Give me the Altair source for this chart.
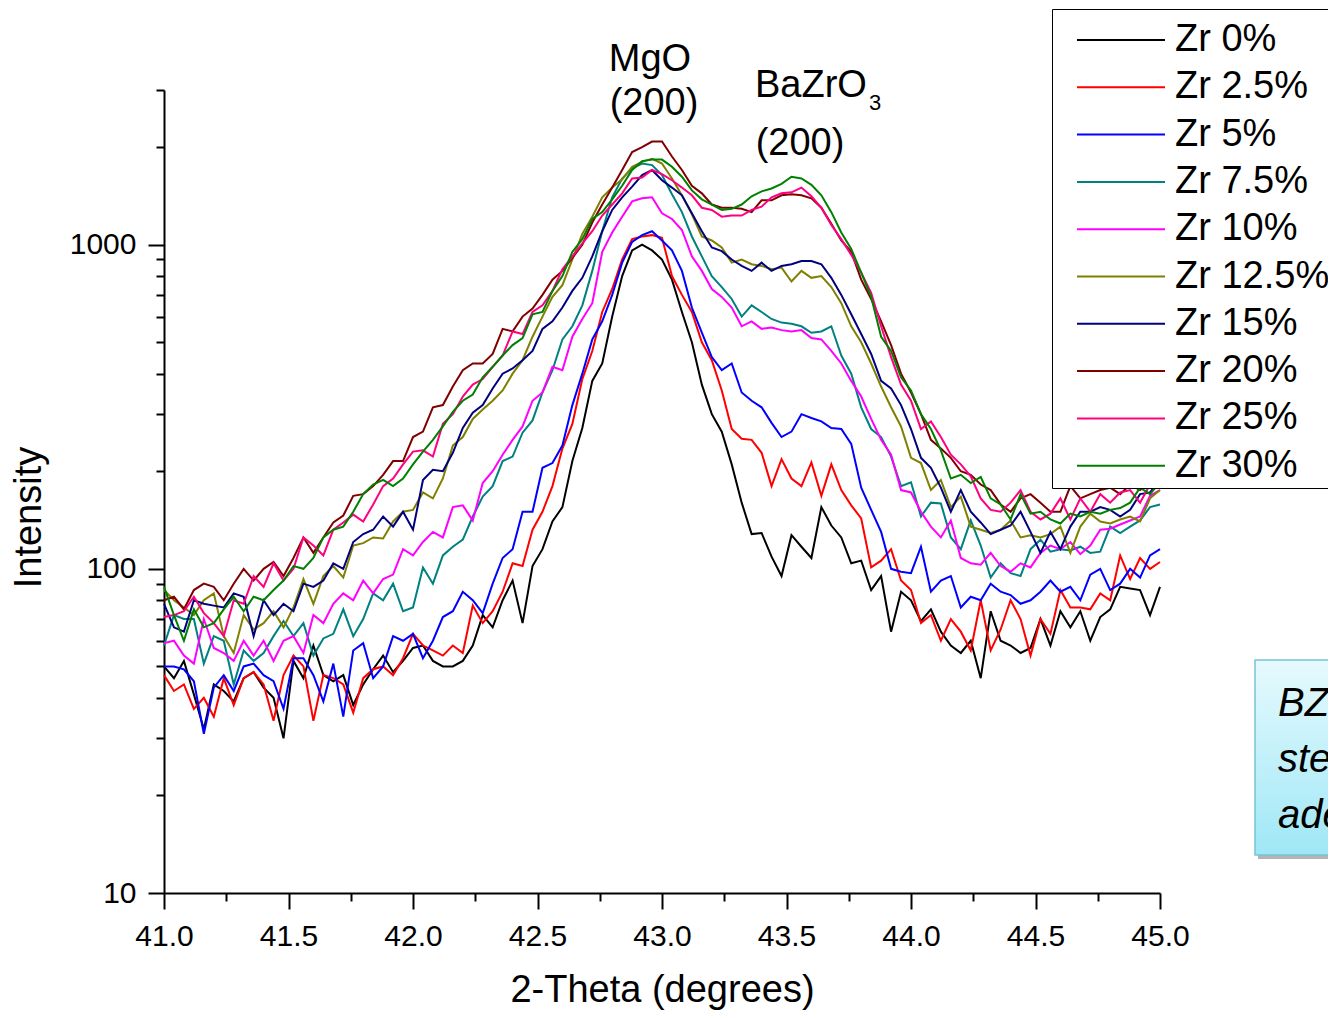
import altair as alt
import pandas as pd

# 2-theta sampling grid (degrees)
theta = [round(41.0 + 0.04 * i, 2) for i in range(101)]

zr_0 = [50, 46, 52, 41, 32, 44, 42, 39, 46, 48,
        43, 40, 30, 52, 46, 58, 47, 45, 47, 38,
        44, 49, 54, 48, 52, 57, 58, 52, 50, 50,
        52, 58, 72, 66, 80, 92, 68, 102, 115, 140,
        155, 215, 272, 380, 430, 600, 800, 960, 1000, 960,
        900, 780, 620, 500, 370, 300, 265, 210, 160, 128,
        129, 109, 95, 127, 117, 108, 155, 136, 125, 104,
        106, 86, 95, 64, 85, 80, 69, 75, 64, 58,
        55, 60, 46, 74, 60, 58, 55, 57, 70, 58,
        74, 66, 74, 60, 71, 75, 88, 87, 86, 72,
        88]
zr_2_5 = [47, 42, 44, 37, 40, 35, 46, 38, 46, 48,
          44, 34, 47, 54, 50, 34, 47, 46, 44, 36,
          46, 49, 50, 47, 53, 63, 58, 56, 54, 58,
          55, 77, 68, 74, 85, 104, 102, 132, 150, 180,
          235, 280, 385, 470, 620, 730, 900, 1040, 1060, 1070,
          1050, 800, 700, 620, 500, 440, 355, 270, 252, 250,
          228, 180, 218, 190, 180, 213, 168, 210, 175, 157,
          143, 101, 106, 115, 92, 86, 68, 72, 60, 70,
          64, 56, 80, 56, 65, 80, 70, 54, 70, 63,
          86, 76, 76, 75, 84, 80, 110, 93, 108, 100,
          105]
zr_5 = [50, 50, 49, 45, 31, 43, 47, 42, 50, 51,
        47, 45, 37, 53, 53, 47, 39, 51, 35, 56,
        59, 46, 50, 62, 60, 63, 53, 60, 71, 74,
        85, 80, 73, 90, 108, 115, 150, 150, 205, 212,
        240, 320, 400, 510, 580, 700, 880, 1020, 1070, 1100,
        1030, 960, 830, 640, 535, 450, 410, 430, 350, 330,
        315, 282, 255, 265, 300, 292, 285, 272, 270, 243,
        178, 152, 130, 100, 98, 97, 117, 85, 92, 95,
        76, 82, 80, 90, 85, 83, 78, 80, 85, 92,
        85, 88, 80, 96, 100, 86, 90, 100, 94, 110,
        115]
zr_7_5 = [58, 72, 70, 70, 51, 62, 60, 44, 56, 52,
          55, 62, 69, 62, 68, 54, 61, 63, 75, 62,
          70, 84, 80, 90, 74, 76, 101, 90, 110, 117,
          123, 145, 167, 180, 215, 222, 263, 287, 350, 410,
          510, 560, 650, 830, 1100, 1400, 1600, 1720, 1780, 1760,
          1640, 1430, 1260, 1060, 920, 800, 740, 680, 600, 650,
          620, 590, 575, 570, 560, 535, 540, 560, 455, 400,
          315, 270, 255, 222, 180, 185, 145, 160, 159, 125,
          115, 141, 118, 94, 104, 97, 95, 115, 123, 113,
          115, 114, 117, 112, 113, 135, 129, 135, 141, 155,
          158]
zr_10 = [59, 60, 54, 51, 70, 57, 55, 52, 60, 54,
         60, 52, 60, 62, 55, 72, 68, 78, 84, 80,
         92, 84, 93, 96, 115, 110, 121, 130, 125, 155,
         157, 141, 184, 200, 225, 250, 275, 330, 350, 420,
         410, 520, 590, 660, 950, 1090, 1220, 1360, 1390, 1400,
         1250, 1200, 1110, 920, 830, 730, 690, 640, 560, 580,
         550, 555, 545, 540, 545, 515, 510, 470, 430, 380,
         340, 290, 250, 225, 175, 172, 150, 135, 125, 141,
         108, 104, 103, 112, 102, 98, 104, 101, 112, 118,
         115, 121, 111, 118, 132, 133, 137, 141, 145, 168,
         175]
zr_12_5 = [86, 80, 76, 72, 80, 84, 62, 55, 72, 65,
           68, 74, 66, 76, 93, 78, 95, 102, 94, 118,
           120, 125, 124, 140, 150, 152, 172, 165, 190, 240,
           255, 290, 310, 330, 355, 400, 440, 520, 600, 690,
           750, 900, 1080, 1220, 1400, 1500, 1590, 1740, 1800, 1840,
           1780, 1600, 1420, 1240, 1060, 1030, 980, 880, 900, 870,
           860, 840, 850, 770, 830, 790, 800, 740, 660, 560,
           500, 430, 365, 315, 275, 220, 212, 175, 188, 155,
           167, 135, 132, 129, 132, 141, 125, 127, 125, 128,
           135, 112, 135, 148, 140, 138, 142, 145, 140, 165,
           175]
zr_15 = [78, 66, 64, 80, 78, 77, 76, 84, 82, 62,
         80, 72, 78, 74, 90, 88, 92, 104, 100, 121,
         128, 132, 145, 135, 150, 132, 188, 202, 200, 228,
         272, 303, 320, 360, 400, 415, 440, 470, 550, 580,
         640, 720, 790, 920, 1100, 1280, 1400, 1510, 1640, 1700,
         1580, 1500, 1420, 1250, 1100, 980, 955, 900, 860, 830,
         880, 830, 860, 870, 890, 890, 870, 790, 700, 610,
         530, 460, 380, 360, 320, 270, 220, 205, 178, 150,
         175, 150, 139, 128, 132, 136, 150, 130, 112, 130,
         115, 135, 150, 150, 155, 152, 145, 152, 170, 172,
         188]
zr_20 = [80, 82, 75, 86, 90, 88, 80, 90, 100, 92,
         100, 105, 95, 108, 125, 112, 125, 139, 146, 168,
         170, 180, 195, 215, 215, 255, 265, 315, 320, 365,
         410, 430, 430, 460, 550, 540, 600, 635, 700, 780,
         830, 910, 1000, 1170, 1330, 1500, 1700, 1930, 2000, 2080,
         2080, 1870, 1700, 1520, 1440, 1330, 1300, 1300, 1290, 1260,
         1370, 1370, 1420, 1430, 1420, 1390, 1300, 1160, 1030, 950,
         780, 680, 580, 490, 400, 350, 300, 250, 235, 220,
         200, 195, 182, 175, 158, 150, 165, 170, 160, 150,
         150, 180, 165, 170, 175, 178, 170, 182, 175, 185,
         182]
zr_25 = [71, 72, 74, 82, 73, 68, 62, 80, 78, 95,
         88, 104, 92, 100, 125, 118, 110, 132, 139, 147,
         140, 158, 180, 190, 210, 230, 232, 222, 280, 300,
         340, 370, 385, 420, 455, 540, 530, 620, 650, 720,
         840, 920, 1010, 1100, 1230, 1330, 1440, 1600, 1610, 1700,
         1650, 1580, 1500, 1420, 1300, 1280, 1220, 1230, 1230, 1280,
         1310, 1400, 1440, 1450, 1500, 1410, 1300, 1150, 1040, 930,
         820, 710, 560, 450, 370, 330, 270, 285, 255, 225,
         210, 193, 165, 152, 150, 160, 175, 150, 142, 148,
         165, 142, 165, 150, 170, 160, 172, 175, 160, 182,
         188]
zr_30 = [88, 72, 60, 75, 66, 68, 75, 82, 74, 82,
         80, 86, 92, 102, 100, 108, 125, 132, 135, 150,
         170, 182, 188, 180, 190, 210, 230, 250, 275, 305,
         330, 345, 390, 420, 455, 490, 515, 610, 620, 720,
         800, 950, 1040, 1200, 1260, 1380, 1520, 1700, 1810, 1830,
         1830, 1740, 1620, 1470, 1380, 1330, 1280, 1290, 1330, 1410,
         1460, 1490, 1540, 1620, 1600, 1530, 1420, 1260, 1090, 970,
         820, 690, 520, 470, 390, 355, 300, 270, 232, 190,
         195, 184, 192, 165, 158, 142, 170, 148, 150, 142,
         138, 148, 145, 150, 148, 152, 154, 160, 178, 170,
         185]

series_names = ["Zr 0%", "Zr 2.5%", "Zr 5%", "Zr 7.5%", "Zr 10%",
                "Zr 12.5%", "Zr 15%", "Zr 20%", "Zr 25%", "Zr 30%"]
series_values = [zr_0, zr_2_5, zr_5, zr_7_5, zr_10,
                 zr_12_5, zr_15, zr_20, zr_25, zr_30]
series_colors = ["#000000", "#ff0000", "#0000ff", "#008080", "#ff00ff",
                 "#808000", "#000080", "#800000", "#ff0080", "#008000"]

x_major = [41.0, 41.5, 42.0, 42.5, 43.0, 43.5, 44.0, 44.5, 45.0]
x_minor = [41.25, 41.75, 42.25, 42.75, 43.25, 43.75, 44.25, 44.75]
y_major = [10, 100, 1000]
y_minor = [20, 30, 40, 50, 60, 70, 80, 90,
           200, 300, 400, 500, 600, 700, 800, 900, 2000, 3000]

rows = []
for name, vals in zip(series_names, series_values):
    for t, v in zip(theta, vals):
        rows.append({"theta": t, "intensity": v, "series": name})
df = pd.DataFrame(rows)

FONT = "Liberation Sans"
x_scale = alt.Scale(domain=[41, 45], nice=False, zero=False)
y_scale = alt.Scale(type="log", domain=[10, 3000], nice=False)

lines = alt.Chart(df).mark_line(strokeWidth=2).encode(
    x=alt.X("theta:Q", scale=x_scale,
            axis=alt.Axis(values=x_major, format=".1f", tickSize=16,
                          labelFontSize=30, labelPadding=36,
                          labelBaseline="alphabetic", labelFlush=False,
                          labelOverlap=False, orient="bottom",
                          title="2-Theta (degrees)", titleFontSize=38,
                          titleFontWeight="normal", titleX=498, titleY=108,
                          titleAlign="center", titleBaseline="alphabetic")),
    y=alt.Y("intensity:Q", scale=y_scale,
            axis=alt.Axis(values=y_major, format="d", tickSize=16,
                          labelFontSize=30, labelPadding=12,
                          labelFlush=False, labelOverlap=False, orient="left",
                          title="Intensity", titleFontSize=38,
                          titleFontWeight="normal", titleAngle=270,
                          titleX=-135, titleY=427, titleAlign="center",
                          titleBaseline="middle")),
    color=alt.Color("series:N",
                    scale=alt.Scale(domain=series_names, range=series_colors),
                    legend=alt.Legend(
                        title="\u00a0", titleFontSize=8, titlePadding=1,
                        orient="none", legendX=888, legendY=-81,
                        padding=3, fillColor="white", strokeColor="black",
                        symbolType="M0.6,0H18.2", symbolSize=100,
                        symbolStrokeWidth=2, symbolOffset=0,
                        labelOffset=82, labelFontSize=38, labelFont=FONT,
                        labelColor="black", labelLimit=400,
                        rowPadding=9.3, zindex=1)),
)

minor = alt.Chart(alt.Data(values=[{"theta": 41, "intensity": 100}])).mark_point(opacity=0).encode(
    x=alt.X("theta:Q", scale=x_scale,
            axis=alt.Axis(values=x_minor, labels=False, domain=False,
                          tickSize=8, title=None, orient="bottom")),
    y=alt.Y("intensity:Q", scale=y_scale,
            axis=alt.Axis(values=y_minor, labels=False, domain=False,
                          tickSize=8, title=None, orient="left")),
)


def note(text, x, y, size=38, style="normal", align="left"):
    return alt.Chart(alt.Data(values=[{}])).mark_text(
        text=text, x=x, y=y, fontSize=size, font=FONT, fontStyle=style,
        align=align, baseline="alphabetic", color="black")


shadow = alt.Chart(alt.Data(values=[{}])).mark_rect(
    x=1094, x2=1220, y=574, y2=769, fill="#b4b4b4")
box = alt.Chart(alt.Data(values=[{}])).mark_rect(
    x=1091, x2=1220, y=570, y2=765,
    fill=alt.LinearGradient(gradient="linear", x1=0, y1=0, x2=0, y2=1,
                            stops=[alt.GradientStop(color="#e6fafd", offset=0),
                                   alt.GradientStop(color="#9fe7f6", offset=1)]),
    stroke="#74c4d6", strokeWidth=1.5)

chart = alt.layer(
    lines, minor,
    note("MgO", 486, -19, align="center"),
    note("(200)", 490, 25, align="center"),
    note("BaZrO", 591, 7),
    note("3", 705, 20, size=22),
    note("(200)", 636, 65, align="center"),
    shadow, box,
    note("BZ", 1114, 626, size=40, style="italic"),
    note("ste", 1114, 682, size=40, style="italic"),
    note("ade", 1114, 738, size=40, style="italic"),
).resolve_scale(x="independent", y="independent").properties(
    width=996, height=803,
    padding={"left": 156, "top": 82, "right": 168, "bottom": 117},
    autosize=alt.AutoSizeParams(type="none"),
).configure_view(stroke=None).configure_axis(
    grid=False, domainColor="black", tickColor="black", labelColor="black",
    titleColor="black", labelFont=FONT, titleFont=FONT,
    domainWidth=2, tickWidth=2,
)

chart.save("out.html", embed_options={"renderer": "svg", "actions": False})
